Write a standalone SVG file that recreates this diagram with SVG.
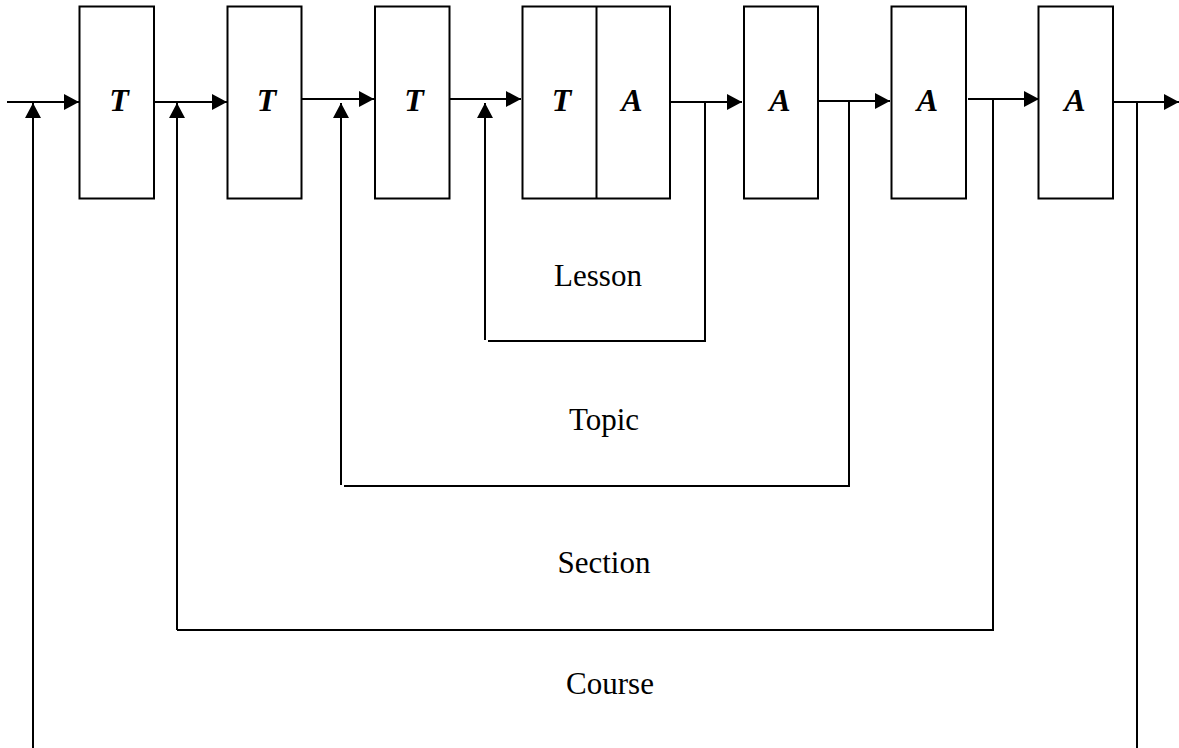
<svg xmlns="http://www.w3.org/2000/svg" width="1179" height="748" viewBox="0 0 1179 748">
<style>
.box{fill:#fff;stroke:#000;stroke-width:2}
.ln{fill:none;stroke:#000;stroke-width:2}
.lbl{font-family:"Liberation Serif","Times New Roman",serif;font-size:32px;font-weight:bold;font-style:italic;text-anchor:middle;fill:#000}
.cap{font-family:"Liberation Serif","Times New Roman",serif;font-size:31px;text-anchor:middle;fill:#000}
</style>
<defs>
<marker id="ah" markerUnits="userSpaceOnUse" markerWidth="16" markerHeight="16" refX="15" refY="8" orient="auto">
<path d="M0,0 L15,8 L0,16 z" fill="#000"/>
</marker>
</defs>
<rect width="1179" height="748" fill="#fff"/>
<g id="connectors">
<line class="ln" x1="7" y1="102" x2="79" y2="102" marker-end="url(#ah)"/>
<line class="ln" x1="153" y1="102" x2="227" y2="102" marker-end="url(#ah)"/>
<line class="ln" x1="301" y1="99" x2="374" y2="99" marker-end="url(#ah)"/>
<line class="ln" x1="449" y1="99" x2="521" y2="99" marker-end="url(#ah)"/>
<line class="ln" x1="668" y1="102" x2="742" y2="102" marker-end="url(#ah)"/>
<line class="ln" x1="818" y1="101" x2="890" y2="101" marker-end="url(#ah)"/>
<line class="ln" x1="968" y1="99" x2="1039" y2="99" marker-end="url(#ah)"/>
<line class="ln" x1="1113" y1="102" x2="1179" y2="102" marker-end="url(#ah)"/>
<!-- Lesson loop -->
<polyline class="ln" points="705,102 705,341 488,341"/>
<line class="ln" x1="485" y1="340" x2="485" y2="103" marker-end="url(#ah)"/>
<!-- Topic loop -->
<polyline class="ln" points="849,101 849,486 344,486"/>
<line class="ln" x1="341" y1="485" x2="341" y2="103" marker-end="url(#ah)"/>
<!-- Section loop -->
<polyline class="ln" points="993,99 993,630 177,630"/>
<line class="ln" x1="177" y1="630" x2="177" y2="103" marker-end="url(#ah)"/>
<!-- Course loop -->
<line class="ln" x1="1137" y1="102" x2="1137" y2="748"/>
<line class="ln" x1="33" y1="748" x2="33" y2="103" marker-end="url(#ah)"/>
</g>
<g id="n1"><rect class="box" x="79.5" y="6.5" width="74.5" height="192"/><text class="lbl" x="119" y="111">T</text></g>
<g id="n2"><rect class="box" x="227.5" y="6.5" width="74" height="192"/><text class="lbl" x="266.5" y="111">T</text></g>
<g id="n3"><rect class="box" x="375" y="6.5" width="74.5" height="192"/><text class="lbl" x="414" y="111">T</text></g>
<g id="n4"><rect class="box" x="522.5" y="6.5" width="147.5" height="192"/><line class="ln" x1="596.5" y1="6.5" x2="596.5" y2="198.5"/><text class="lbl" x="561.5" y="111">T</text><text class="lbl" x="632" y="111">A</text></g>
<g id="n5"><rect class="box" x="744" y="6.5" width="74" height="192"/><text class="lbl" x="780" y="111">A</text></g>
<g id="n6"><rect class="box" x="891.5" y="6.5" width="74.5" height="192"/><text class="lbl" x="927.5" y="111">A</text></g>
<g id="n7"><rect class="box" x="1038.5" y="6.5" width="74.5" height="192"/><text class="lbl" x="1075" y="111">A</text></g>
<g id="labels">
<text class="cap" x="598" y="286">Lesson</text>
<text class="cap" x="604" y="430">Topic</text>
<text class="cap" x="604" y="573">Section</text>
<text class="cap" x="610" y="694">Course</text>
</g>
</svg>
